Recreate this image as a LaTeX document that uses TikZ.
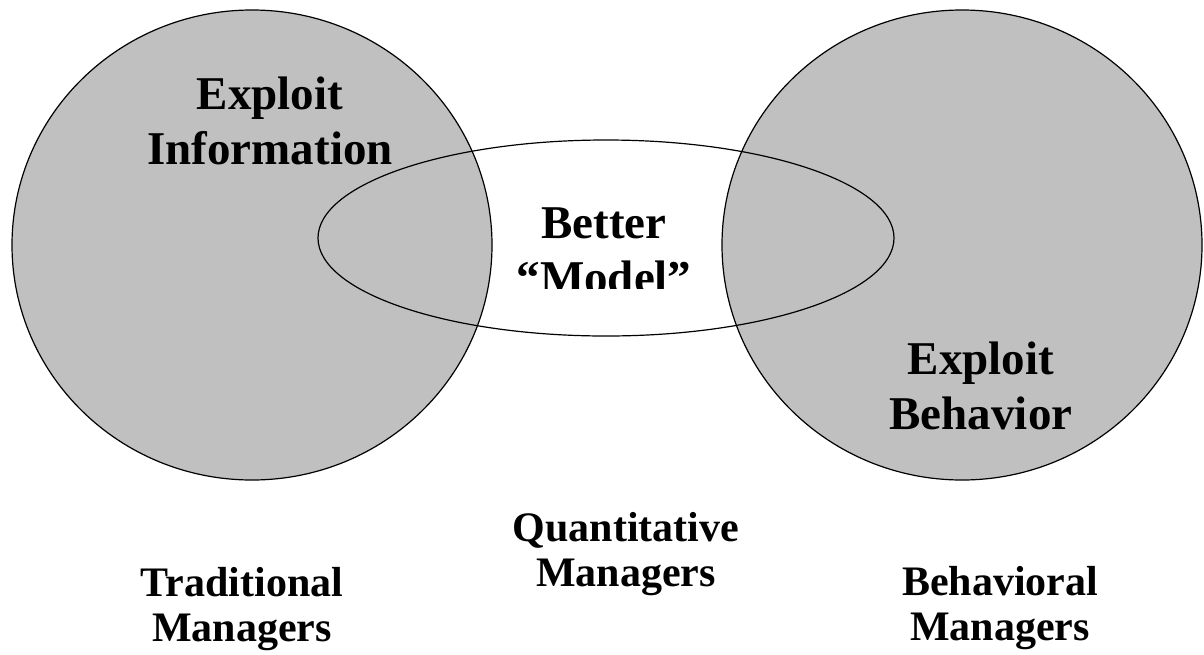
\documentclass[tikz,border=0pt]{standalone}
\usepackage{fontspec}
\setmainfont{Liberation Serif}
\definecolor{shade}{RGB}{192,192,192}

\begin{document}
\begin{tikzpicture}[x=1pt,y=-1pt,
    blob/.style={draw=black,line width=1.2pt,fill=shade},
    lbl/.style={align=center,inner sep=0pt,font=\bfseries\fontsize{47}{55}\selectfont},
    who/.style={align=center,inner sep=0pt,font=\bfseries\fontsize{42}{45}\selectfont}]
    \useasboundingbox (0,0) rectangle (1204,654);

    % the two circles and the ellipse across them
    \draw[blob] (252,245) ellipse [x radius=240,y radius=235];
    \draw[blob] (962,245) ellipse [x radius=240,y radius=235];
    \draw[line width=1.2pt] (606,238) ellipse [x radius=288,y radius=98];

    \node[lbl] (info) at (270,121) {Exploit\\Information};
    \node[lbl] (behav) at (981,386) {Exploit\\Behavior};
    \begin{scope}
        \clip (480,180) rectangle (740,288);
        \node[lbl] (model) at (604,251) {Better\\“Model”};
    \end{scope}

    % who does what
    \foreach \n/\x/\y/\t in {trad/242/609/Traditional,quant/626/554/Quantitative,behavmgr/1000/608/Behavioral}
    {
        \node[who] (\n) at (\x,\y) {\t\\Managers};
    }
\end{tikzpicture}
\end{document}
